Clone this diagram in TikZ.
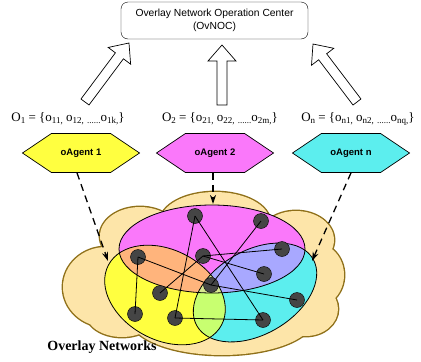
\documentclass[tikz,border=0pt]{standalone}
\usepackage{fontspec}
\setmainfont{Liberation Serif}
\setsansfont{Liberation Sans}
\usetikzlibrary{calc,arrows.meta,shapes.symbols}

\definecolor{cloudfill}{HTML}{FDE5A9}
\definecolor{clouddraw}{HTML}{8F7019}
\definecolor{yel}{HTML}{FFFF40}
\definecolor{mag}{HTML}{FA78FA}
\definecolor{cya}{HTML}{5CEEEE}
\definecolor{ymix}{HTML}{FFB47C}
\definecolor{mcmix}{HTML}{A8A8FF}
\definecolor{ycmix}{HTML}{C8FF70}
\definecolor{allmix}{HTML}{D8E890}
\definecolor{peer}{HTML}{454545}

% small lowered index used in the object sets
\newcommand\lowidx[1]{\raisebox{-0.35ex}{\fontsize{9}{9}\selectfont #1}}

% puffs that make up the network cloud: {x}{y}{x radius}{y radius}
\newcommand\cloudpuffs[1]{%
  \foreach \cx/\cy/\rx/\ry in {205/282/122/55, 215/222/55/30, 140/236/40/29,
      296/240/38/29, 315/275/29/32, 106/287/43/40, 122/313/36/24,
      222/318/92/37, 306/309/32/27}
    {#1}}

\begin{document}
\begin{tikzpicture}[x=1pt,y=-1pt,
  ocbox/.style={draw, rounded corners=7, minimum width=187, minimum height=37,
    align=center, inner sep=0, font=\sffamily\fontsize{10.3}{12.5}\selectfont},
  objset/.style={inner sep=0, font=\fontsize{13}{14}\selectfont},
  blockarrow/.style={draw, fill=white, line width=0.7, line join=miter},
  agentbox/.style={signal, signal to=west and east, signal pointer angle=68,
    draw, line width=0.7, minimum width=117, minimum height=39, inner sep=0,
    font=\sffamily\bfseries\fontsize{9.5}{10}\selectfont},
  feed/.style={dashed, dash pattern=on 7pt off 5pt, line width=1.3,
    -{Stealth[length=9pt,width=6pt]}},
  peernode/.style={circle, draw=black, fill=peer, minimum size=15, inner sep=0},
  link/.style={line width=0.8},
  rim/.style={draw=black, line width=0.8}
]
\useasboundingbox (0,0) rectangle (421,362);

% operation center
\node[ocbox] (noc) at (214.5,20.5) {Overlay Network Operation Center\\(OvNOC)};

% object sets reported by each agent
\node[objset] (o1) at (68,119) {O\lowidx{1} = \{o\lowidx{11,} o\lowidx{12,} \lowidx{......}o\lowidx{1k,}\}};
\node[objset] (o2) at (220,119) {O\lowidx{2} = \{o\lowidx{21,} o\lowidx{22,} \lowidx{......}o\lowidx{2m,}\}};
\node[objset] (on) at (358,119) {O\lowidx{n} = \{o\lowidx{n1,} o\lowidx{n2,} \lowidx{......}o\lowidx{nq,}\}};

% hollow arrows up to the operation center (drawn along +x, then turned)
\coordinate (t1) at (85,102);
\coordinate (t2) at (222,105);
\coordinate (t3) at (357,102);
\foreach \tail/\ang/\len in {t1/53.3/73.6, t2/90/60, t3/127.2/72.8}{
  \begin{scope}[shift={(\tail)}, rotate=\ang]
    \path[blockarrow] (0,-5) -- (\len-16,-5) -- (\len-16,-14) -- (\len,0)
      -- (\len-16,14) -- (\len-16,5) -- (0,5) -- cycle;
  \end{scope}
}

% agents
\node[agentbox, fill=yel] (ag1) at (81,153) {oAgent 1};
\node[agentbox, fill=mag] (ag2) at (215,153) {oAgent 2};
\node[agentbox, fill=cya] (agn) at (351,153) {oAgent n};

% the underlying network cloud: outline of the union of the puffs
\cloudpuffs{\draw[clouddraw, line width=2.8] (\cx,\cy) ellipse [x radius=\rx, y radius=\ry];}
\cloudpuffs{\fill[cloudfill] (\cx,\cy) ellipse [x radius=\rx, y radius=\ry];}

% overlay regions
\coordinate (cM) at (212,249);
\coordinate (cY) at (165,295);
\coordinate (cC) at (255,292.5);
\fill[mag] (cM) ellipse [x radius=93, y radius=44];
\fill[cya, rotate around={30:(cC)}] (cC) ellipse [x radius=67, y radius=42];
\fill[yel, rotate around={-28:(cY)}] (cY) ellipse [x radius=64, y radius=45];
\begin{scope}
  \clip (cM) ellipse [x radius=93, y radius=44];
  \fill[ymix, rotate around={-28:(cY)}] (cY) ellipse [x radius=64, y radius=45];
  \fill[mcmix, rotate around={30:(cC)}] (cC) ellipse [x radius=67, y radius=42];
\end{scope}
\begin{scope}
  \clip[rotate around={30:(cC)}] (cC) ellipse [x radius=67, y radius=42];
  \fill[ycmix, rotate around={-28:(cY)}] (cY) ellipse [x radius=64, y radius=45];
  \clip (cM) ellipse [x radius=93, y radius=44];
  \fill[allmix, rotate around={-28:(cY)}] (cY) ellipse [x radius=64, y radius=45];
\end{scope}
\path[rim] (cM) ellipse [x radius=93, y radius=44];
\path[rim, rotate around={30:(cC)}] (cC) ellipse [x radius=67, y radius=42];
\path[rim, rotate around={-28:(cY)}] (cY) ellipse [x radius=64, y radius=45];

% peers
\node[peernode] (A) at (195,216) {};
\node[peernode] (B) at (261,221) {};
\node[peernode] (C) at (282,249) {};
\node[peernode] (D) at (203,256) {};
\node[peernode] (E) at (138,257) {};
\node[peernode] (F) at (264,274) {};
\node[peernode] (G) at (211,285) {};
\node[peernode] (H) at (160,293) {};
\node[peernode] (I) at (297,300) {};
\node[peernode] (J) at (135,314) {};
\node[peernode] (K) at (175,318) {};
\node[peernode] (L) at (263,320) {};

% overlay links
\draw[link] (A.center) -- (K.center);
\draw[link] (A.center) -- (L.center);
\draw[link] (B.center) -- (G.center);
\draw[link] (D.center) -- (C.center);
\draw[link] (D.center) -- (F.center);
\draw[link] (D.center) -- (H.center);
\draw[link] (E.center) -- (J.center);
\draw[link] (E.center) -- (G.center);
\draw[link] (G.center) -- (I.center);
\draw[link] (K.center) -- (L.center);

% agents watching the overlays
\coordinate (d1) at (108,261);
\coordinate (d2) at (213,204);
\coordinate (d3) at (312,261);
\draw[feed] ($(ag1.south)+(-4,0)$) -- (d1);
\draw[feed] ($(ag2.south)+(-2,0)$) -- (d2);
\draw[feed] (agn.south) -- (d3);

\node[font=\bfseries\fontsize{14}{15}\selectfont, inner sep=0] (title) at (102,347) {Overlay Networks};
\end{tikzpicture}
\end{document}
